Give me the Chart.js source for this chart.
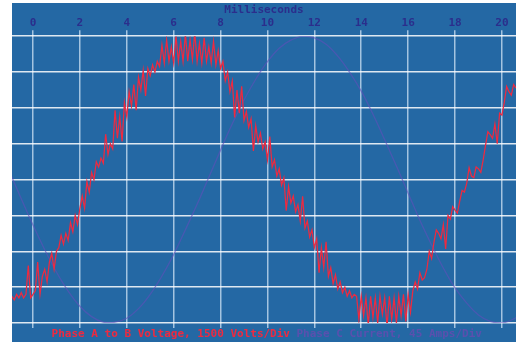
<!DOCTYPE html>
<html>
<head>
<meta charset="utf-8">
<script src="https://cdn.jsdelivr.net/npm/chart.js@4.4.1/dist/chart.umd.min.js"></script>
<style>
  html, body { margin: 0; padding: 0; background: #ffffff; }
  #scope {
    position: absolute; left: 12px; top: 3px;
    width: 504px; height: 339px;
    background: #2468a4;
  }
</style>
</head>
<body>
<div id="scope"><canvas id="c" width="504" height="339"></canvas></div>
<script>
// Sample clock of the recorder
const sampleStartMs = -0.9;
const voltageStepMs = 0.1;
const currentStepMs = 0.5;
const currentStartMs = -1.0;

// Phase A-B voltage samples, kV (1.5 kV per division)
const voltageKV = [
  -4.88,-5.03,-4.80,-4.95,-4.73,-4.95,-4.80,-3.60,-4.95,-4.80,
  -4.65,-3.45,-4.80,-4.05,-3.75,-4.28,-3.45,-3.08,-3.75,-3.00,
  -2.85,-2.33,-2.70,-2.25,-2.55,-1.80,-2.18,-1.50,-1.88,-1.20,
  -0.68,-1.20,-0.08,-0.53, 0.30, 0.00, 0.75, 0.53, 0.90, 0.68,
   1.90, 1.05, 1.50, 1.28, 2.90, 1.73, 2.63, 1.60, 3.23, 2.63,
   3.68, 3.08, 3.98, 2.90, 4.28, 3.75, 4.58, 3.50, 4.65, 4.35,
   4.80, 4.50, 4.95, 4.73, 5.63, 4.88, 5.85, 4.95, 5.55, 4.88,
   6.00, 4.95, 5.78, 4.95, 6.08, 4.95, 5.85, 5.03, 6.15, 4.95,
   5.70, 4.88, 5.93, 4.95, 5.55, 4.88, 5.78, 4.80, 5.40, 4.65,
   4.95, 4.13, 4.50, 3.68, 4.13, 2.60, 3.75, 2.78, 3.90, 2.48,
   2.85, 2.18, 2.55, 1.20, 2.25, 1.58, 1.95, 1.28, 1.58, 0.83,
   1.80, 0.53, 0.83, 0.15, 0.45,-0.23, 0.08,-1.30,-0.30,-0.98,
  -0.68,-1.35,-1.05,-1.73,-0.70,-2.03,-1.73,-2.40,-2.10,-2.85,
  -2.48,-3.90,-2.85,-3.68,-2.60,-4.05,-3.68,-4.35,-3.98,-4.58,
  -4.28,-4.73,-4.50,-4.88,-4.65,-4.95,-4.80,-4.88,-5.85,-4.88,
  -5.70,-4.95,-6.08,-4.88,-5.78,-4.95,-6.00,-4.88,-5.63,-4.95,
  -6.15,-4.88,-5.85,-4.95,-6.00,-4.88,-5.70,-4.80,-5.93,-4.80,
  -5.55,-4.65,-4.28,-4.58,-3.90,-4.20,-4.10,-3.75,-3.00,-3.30,
  -2.63,-2.10,-2.25,-2.48,-1.88,-2.90,-1.50,-1.65,-1.13,-1.28,
  -1.40,-0.90,-0.45,-0.53,-0.15, 0.50, 0.15, 0.08, 0.53, 0.45,
   0.30, 0.83, 1.43, 2.00, 1.88, 1.73, 2.33, 1.50, 2.78, 2.70,
   3.23, 3.90, 3.68, 3.53, 3.98, 3.83
];

// Phase C current samples, A (45 A per division)
const currentA = [
    10, -24, -57, -88,-116,-140,-159,-172,-179,-179,
  -174,-162,-144,-121, -94, -63, -31,   3,  37,  70,
   100, 126, 148, 165, 175, 180, 178, 170, 155, 135,
   111,  82,  50,  17, -17, -51, -82,-111,-136,-155,
  -170,-178,-180,-175,-165
];

// Axis / legend text
const xTitle = 'Milliseconds';
const xTickStep = 2;
const xRange = [-0.895, 20.6];
const voltageRangeKV = [-6, 6];
const voltsPerDiv = 1.5;
const currentRangeA = [-180, 180];
const seriesLabels = ['Phase A to B Voltage, 1500 Volts/Div', 'Phase C Current, 45 Amps/Div'];

const voltagePoints = voltageKV.map((v, i) => ({ x: +(sampleStartMs + i * voltageStepMs).toFixed(2), y: v }));
const currentPoints = currentA.map((v, i) => ({ x: +(currentStartMs + i * currentStepMs).toFixed(2), y: v }));

const monoFont = { family: "'DejaVu Sans Mono', 'Liberation Mono', monospace", size: 11, weight: 'bold', lineHeight: 1.1 };
const navy = '#2b2e8c';
const red = '#ee2a40';
const purple = 'rgba(96, 78, 186, 0.6)';
const gridX = 'rgba(220, 235, 250, 0.7)';
const gridY = 'rgba(255, 255, 255, 0.85)';

function evenTicks(scale) {
  const t = [];
  for (let v = 0; v <= xRange[1]; v += xTickStep) t.push({ value: v });
  scale.ticks = t;
}

new Chart(document.getElementById('c'), {
  type: 'line',
  data: {
    datasets: [
      { label: seriesLabels[0], data: voltagePoints, yAxisID: 'yV',
        borderColor: red, borderWidth: 1.25, pointRadius: 0, tension: 0 },
      { label: seriesLabels[1], data: currentPoints, yAxisID: 'yI',
        borderColor: purple, borderWidth: 1.3, pointRadius: 0, tension: 0.4 }
    ]
  },
  options: {
    responsive: false,
    animation: false,
    events: [],
    layout: { padding: { top: 1, left: 0, right: 0, bottom: 0 } },
    plugins: {
      tooltip: { enabled: false },
      legend: {
        position: 'bottom',
        maxHeight: 14,
        labels: {
          font: monoFont,
          boxWidth: 0,
          boxHeight: 0,
          padding: 1,
          generateLabels(chart) {
            return chart.data.datasets.map((ds, i) => ({
              text: ds.label,
              fontColor: i === 0 ? red : '#5a50ae',
              fillStyle: 'transparent',
              strokeStyle: 'transparent',
              lineWidth: 0,
              hidden: false,
              datasetIndex: i
            }));
          }
        }
      }
    },
    scales: {
      x: {
        type: 'linear', position: 'top',
        min: xRange[0], max: xRange[1],
        afterBuildTicks: evenTicks,
        ticks: { color: navy, font: monoFont, padding: 1, maxRotation: 0 },
        grid: { color: gridX, lineWidth: 1.5, tickLength: 6 },
        border: { display: false },
        title: { display: true, text: xTitle, color: navy, font: monoFont, padding: 0 }
      },
      x2: {
        type: 'linear', position: 'bottom',
        min: xRange[0], max: xRange[1],
        afterBuildTicks: evenTicks,
        ticks: { display: false },
        grid: { color: gridX, lineWidth: 1.5, tickLength: 5, drawOnChartArea: false },
        border: { display: false }
      },
      yV: {
        position: 'left',
        min: voltageRangeKV[0], max: voltageRangeKV[1],
        ticks: { display: false, stepSize: voltsPerDiv },
        grid: { color: gridY, lineWidth: 1.5, drawTicks: false },
        border: { display: false }
      },
      yI: {
        position: 'right', display: false,
        min: currentRangeA[0], max: currentRangeA[1]
      }
    }
  }
});
</script>
</body>
</html>
